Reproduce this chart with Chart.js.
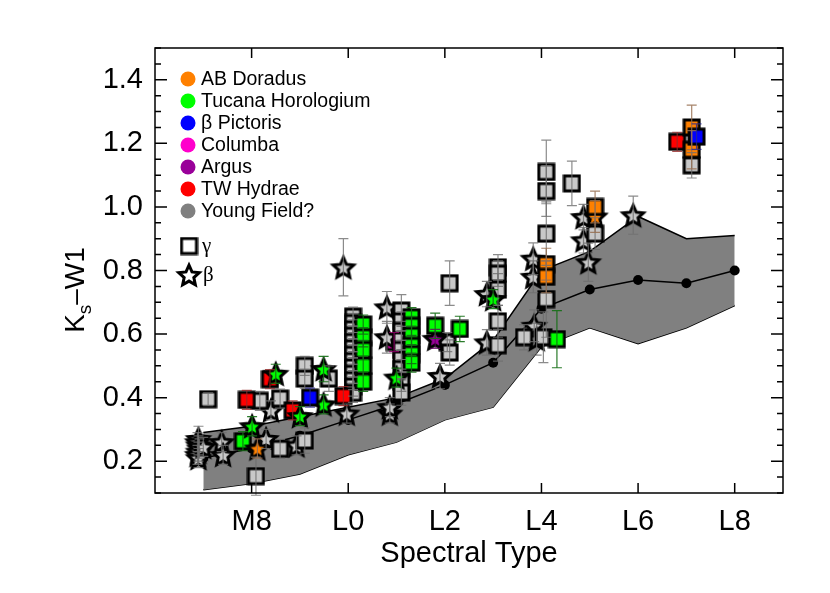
<!DOCTYPE html>
<html>
<head>
<meta charset="utf-8">
<script src="https://cdn.jsdelivr.net/npm/chart.js@4.4.0/dist/chart.umd.min.js"></script>
<style>
  html, body { margin: 0; padding: 0; background: #fff; }
</style>
</head>
<body>
<canvas id="myChart" width="830" height="593"></canvas>
<script>
// Axis ticks
const xTickValues = [8, 10, 12, 14, 16, 18];
const xTickLabels = ['M8', 'L0', 'L2', 'L4', 'L6', 'L8'];
const yTickValues = [0.2, 0.4, 0.6, 0.8, 1.0, 1.2, 1.4];

// Field sequence band (spectral type: M7 = 7 ... L8 = 18)
const bandTypes  = [7, 8, 9, 10, 11, 12, 13, 14, 15, 16, 17, 18];
const bandUpper  = [0.29, 0.31, 0.34, 0.37, 0.40, 0.46, 0.58, 0.80, 0.86, 0.97, 0.90, 0.91];
const bandMedian = [0.21, 0.24, 0.28, 0.33, 0.38, 0.44, 0.51, 0.68, 0.74, 0.77, 0.76, 0.80];
const bandLower  = [0.11, 0.13, 0.16, 0.22, 0.26, 0.33, 0.37, 0.56, 0.62, 0.57, 0.62, 0.69];

// Groups (legend)
const groupNames  = ['AB Doradus', 'Tucana Horologium', 'β Pictoris', 'Columba', 'Argus', 'TW Hydrae', 'Young Field?'];
const groupColors = ['#ff8000', '#00ff00', '#0000ff', '#ff00cc', '#990099', '#ff0000', '#808080'];

// Objects: [spectral type, Ks-W1, error]
const abDorGamma = [[14.1, 0.82, 0.05], [14.1, 0.78, 0.05], [15.11, 1.00, 0.05], [17.11, 1.25, 0.07], [17.11, 1.18, 0.06]];
const abDorBeta = [[8.12, 0.24, 0.03], [15.11, 0.97, 0.05]];
const tucHorGamma = [[7.82, 0.263, 0.03],
    [10.31, 0.63, 0.03], [10.31, 0.59, 0.03], [10.31, 0.55, 0.03], [10.31, 0.50, 0.03], [10.31, 0.45, 0.03],
    [11.31, 0.653, 0.03], [11.31, 0.626, 0.03], [11.31, 0.595, 0.03], [11.31, 0.563, 0.03], [11.31, 0.537, 0.03], [11.31, 0.51, 0.03],
    [11.8, 0.626, 0.04], [12.31, 0.616, 0.04], [14.32, 0.584, 0.09]];
const tucHorBeta = [[8.01, 0.31, 0.03], [8.5, 0.475, 0.03], [9.0, 0.342, 0.03], [9.49, 0.49, 0.04], [9.49, 0.379, 0.03], [11.0, 0.463, 0.03], [13.0, 0.71, 0.03]];
const betaPicGamma = [[9.21, 0.40, 0.03], [17.21, 1.221, 0.04]];
const columbaGamma = [[10.95, 0.575, 0.03]];
const argusBeta = [[11.8, 0.585, 0.03]];
const twHyaGamma = [[7.9, 0.393, 0.03], [8.38, 0.458, 0.03], [8.85, 0.36, 0.03], [9.9, 0.405, 0.03], [16.81, 1.205, 0.03]];
const fieldGamma = [[7.1, 0.395, 0.02], [8.17, 0.39, 0.03], [8.09, 0.153, 0.06], [8.59, 0.397, 0.03], [8.59, 0.239, 0.03],
    [9.1, 0.50, 0.03], [9.1, 0.46, 0.03], [9.1, 0.265, 0.04], [9.6, 0.46, 0.04],
    [10.1, 0.655, 0.03], [10.1, 0.635, 0.03], [10.1, 0.615, 0.03], [10.1, 0.595, 0.03], [10.1, 0.575, 0.03],
    [10.1, 0.555, 0.03], [10.1, 0.535, 0.03], [10.1, 0.515, 0.03], [10.1, 0.495, 0.03], [10.1, 0.475, 0.03],
    [10.1, 0.455, 0.03], [10.1, 0.435, 0.03], [10.1, 0.415, 0.03],
    [11.1, 0.674, 0.05], [11.1, 0.64, 0.03], [11.1, 0.61, 0.03], [11.1, 0.58, 0.03], [11.1, 0.55, 0.03],
    [11.1, 0.52, 0.03], [11.1, 0.49, 0.03], [11.1, 0.45, 0.03], [11.1, 0.416, 0.04],
    [12.1, 0.76, 0.07], [12.05, 0.575, 0.03], [12.1, 0.542, 0.04],
    [13.1, 0.81, 0.04], [13.1, 0.79, 0.04], [13.1, 0.74, 0.05], [13.1, 0.64, 0.05], [13.1, 0.565, 0.05],
    [13.64, 0.59, 0.04], [14.04, 0.59, 0.08],
    [14.1, 1.11, 0.10], [14.1, 1.05, 0.08], [14.1, 0.916, 0.10], [14.1, 0.71, 0.12],
    [14.63, 1.074, 0.07], [15.11, 0.916, 0.05], [17.11, 1.131, 0.04]];
const fieldBeta = [[6.9, 0.27, 0.04], [6.88, 0.26, 0.03], [6.9, 0.25, 0.03], [6.92, 0.24, 0.03], [6.9, 0.23, 0.03],
    [6.88, 0.22, 0.03], [6.9, 0.21, 0.03], [7.0, 0.245, 0.03],
    [7.38, 0.26, 0.03], [7.41, 0.22, 0.03], [8.3, 0.27, 0.03], [8.4, 0.36, 0.03], [8.93, 0.25, 0.03],
    [9.97, 0.35, 0.03], [9.9, 0.81, 0.09], [10.8, 0.684, 0.05], [10.8, 0.59, 0.05], [10.86, 0.35, 0.03], [10.86, 0.37, 0.03],
    [11.9, 0.468, 0.04], [12.87, 0.726, 0.04], [12.87, 0.574, 0.04],
    [13.83, 0.837, 0.05], [13.83, 0.78, 0.05], [13.85, 0.626, 0.05], [13.9, 0.584, 0.05],
    [14.87, 0.968, 0.04], [14.87, 0.895, 0.04], [14.97, 0.826, 0.06], [15.9, 0.974, 0.06]];

const FONT = '"Liberation Sans", Arial, Helvetica, sans-serif';
const fieldFill = '#c8c8c8';

// Marker images
function makeMarker(shape, fill) {
    const c = document.createElement('canvas');
    const g = c.getContext('2d');
    if (shape === 'star') {
        c.width = c.height = 34;
        g.lineWidth = 3;
        g.lineJoin = 'miter';
        const R = 10.8, r = R * 0.47, m = 17;
        g.beginPath();
        for (let k = 0; k < 10; k++) {
            const a = -Math.PI / 2 + k * Math.PI / 5;
            const rad = k % 2 ? r : R;
            g.lineTo(m + rad * Math.cos(a), m + 1 + rad * Math.sin(a));
        }
        g.closePath();
    } else {
        c.width = c.height = 19;
        g.lineWidth = 3;
        g.beginPath();
        g.rect(2, 2, 15, 15);
    }
    g.fillStyle = fill;
    g.strokeStyle = '#000';
    g.fill();
    g.stroke();
    return c;
}

function pointSet(rows, shape, fill, errColor, order) {
    return {
        type: 'scatter',
        data: rows.map(r => ({ x: r[0], y: r[1] })),
        errors: rows.map(r => r[2]),
        errColor: errColor,
        pointStyle: makeMarker(shape, fill),
        pointRadius: 9,
        order: order
    };
}

const bandData = arr => bandTypes.map((t, i) => ({ x: t, y: arr[i] }));

const datasets = [
    { type: 'line', data: bandData(bandLower), borderColor: '#000', borderWidth: 1.5, pointRadius: 0, fill: false, order: 100 },
    { type: 'line', data: bandData(bandUpper), borderColor: '#000', borderWidth: 1.5, pointRadius: 0,
      fill: { target: 0 }, backgroundColor: '#808080', order: 99 },
    { type: 'line', data: bandData(bandMedian), borderColor: '#000', borderWidth: 1.5, pointRadius: 5,
      pointBackgroundColor: '#000', pointBorderWidth: 0, fill: false, order: 50 },
    pointSet(fieldBeta, 'star', fieldFill, 'rgba(110,110,110,0.8)', 11),
    pointSet(fieldGamma, 'rect', fieldFill, 'rgba(110,110,110,0.8)', 10),
    pointSet(columbaGamma, 'rect', groupColors[3], 'rgba(150,0,110,0.8)', 12),
    pointSet(argusBeta, 'star', groupColors[4], 'rgba(100,0,100,0.8)', 6),
    pointSet(twHyaGamma, 'rect', groupColors[5], 'rgba(150,40,40,0.8)', 5),
    pointSet(tucHorGamma, 'rect', groupColors[1], 'rgba(20,110,20,0.9)', 4),
    pointSet(abDorGamma, 'rect', groupColors[0], 'rgba(150,110,80,0.85)', 3),
    pointSet(abDorBeta, 'star', groupColors[0], 'rgba(150,110,80,0.85)', 3),
    pointSet(tucHorBeta, 'star', groupColors[1], 'rgba(20,110,20,0.9)', 2),
    pointSet(betaPicGamma, 'rect', groupColors[2], 'rgba(40,40,140,0.8)', 1)
];

// Error bars, frame, ticks, legend and axis titles
const decorPlugin = {
    id: 'decor',
    afterDatasetsDraw(chart) {
        const ctx = chart.ctx, ys = chart.scales.y;
        ctx.save();
        ctx.lineWidth = 1.2;
        chart.data.datasets.forEach((ds, di) => {
            if (!ds.errors) return;
            const meta = chart.getDatasetMeta(di);
            ctx.strokeStyle = ds.errColor;
            meta.data.forEach((pt, i) => {
                const e = ds.errors[i], v = ds.data[i].y;
                const y1 = ys.getPixelForValue(v + e), y2 = ys.getPixelForValue(v - e);
                ctx.beginPath();
                ctx.moveTo(pt.x, y1); ctx.lineTo(pt.x, y2);
                ctx.moveTo(pt.x - 5, y1); ctx.lineTo(pt.x + 5, y1);
                ctx.moveTo(pt.x - 5, y2); ctx.lineTo(pt.x + 5, y2);
                ctx.stroke();
            });
        });
        ctx.restore();
    },
    afterDraw(chart) {
        const ctx = chart.ctx, a = chart.chartArea, xs = chart.scales.x, ys = chart.scales.y;
        ctx.save();
        ctx.strokeStyle = '#000';
        ctx.lineWidth = 1.5;
        ctx.strokeRect(a.left, a.top, a.right - a.left, a.bottom - a.top);
        ctx.beginPath();
        xTickValues.forEach(v => {
            const px = xs.getPixelForValue(v);
            ctx.moveTo(px, a.bottom); ctx.lineTo(px, a.bottom - 10);
            ctx.moveTo(px, a.top); ctx.lineTo(px, a.top + 10);
        });
        for (let k = 2; k <= 30; k++) {
            const v = k * 0.05;
            const py = ys.getPixelForValue(v);
            const len = (k % 4 === 0) ? 12 : 6;
            ctx.moveTo(a.left, py); ctx.lineTo(a.left + len, py);
            ctx.moveTo(a.right, py); ctx.lineTo(a.right - len, py);
        }
        ctx.stroke();

        // Legend
        ctx.textBaseline = 'middle';
        ctx.textAlign = 'left';
        ctx.font = '19.5px ' + FONT;
        groupNames.forEach((name, i) => {
            const cy = a.top + 31 + i * 22;
            ctx.fillStyle = groupColors[i];
            ctx.beginPath();
            ctx.arc(a.left + 33, cy, 7.5, 0, 2 * Math.PI);
            ctx.fill();
            ctx.fillStyle = '#000';
            ctx.fillText(name, a.left + 46, cy + 1);
        });
        const sq = makeMarker('rect', '#fff');
        const st = makeMarker('star', '#fff');
        ctx.drawImage(sq, a.left + 34 - 9.5, a.top + 198 - 9.5);
        ctx.drawImage(st, a.left + 34 - 17, a.top + 227 - 17);
        ctx.font = '21px "Liberation Serif", "DejaVu Serif", serif';
        ctx.fillText('γ', a.left + 47, a.top + 198);
        ctx.fillText('β', a.left + 48, a.top + 227);

        // Axis titles
        ctx.textBaseline = 'alphabetic';
        ctx.font = '29px ' + FONT;
        ctx.textAlign = 'center';
        ctx.fillText('Spectral Type', (a.left + a.right) / 2, 562);
        ctx.translate(84, 290);
        ctx.rotate(-Math.PI / 2);
        ctx.textAlign = 'left';
        ctx.font = '28px ' + FONT;
        const w1 = ctx.measureText('K').width;
        ctx.font = '19px ' + FONT;
        const w2 = ctx.measureText('s').width;
        ctx.font = '28px ' + FONT;
        const w3 = ctx.measureText('–W1').width;
        let x0 = -(w1 + w2 + w3) / 2;
        ctx.fillText('K', x0, 0);
        ctx.font = '19px ' + FONT;
        ctx.fillText('s', x0 + w1, 7);
        ctx.font = '28px ' + FONT;
        ctx.fillText('–W1', x0 + w1 + w2, 0);
        ctx.restore();
    }
};

const config = {
    type: 'scatter',
    data: { datasets: datasets },
    options: {
        responsive: false,
        animation: false,
        devicePixelRatio: 1,
        layout: { padding: { left: 0, top: 48, right: 47, bottom: 0 } },
        plugins: {
            legend: { display: false },
            tooltip: { enabled: false }
        },
        scales: {
            x: {
                type: 'linear', min: 6, max: 19,
                grid: { display: false, drawTicks: false },
                border: { display: false },
                ticks: {
                    color: '#000', padding: 12, maxRotation: 0,
                    font: { family: FONT, size: 29 },
                    callback: v => xTickLabels[xTickValues.indexOf(v)]
                },
                afterBuildTicks: s => { s.ticks = xTickValues.map(v => ({ value: v })); },
                afterFit: s => { s.height = 100; }
            },
            y: {
                type: 'linear', min: 0.1, max: 1.5,
                grid: { display: false, drawTicks: false },
                border: { display: false },
                ticks: {
                    color: '#000', padding: 12,
                    font: { family: FONT, size: 29 },
                    callback: v => v.toFixed(1)
                },
                afterBuildTicks: s => { s.ticks = yTickValues.map(v => ({ value: v })); },
                afterFit: s => { s.width = 155; }
            }
        }
    },
    plugins: [decorPlugin]
};

const chart = new Chart(document.getElementById('myChart'), config);
</script>
</body>
</html>
